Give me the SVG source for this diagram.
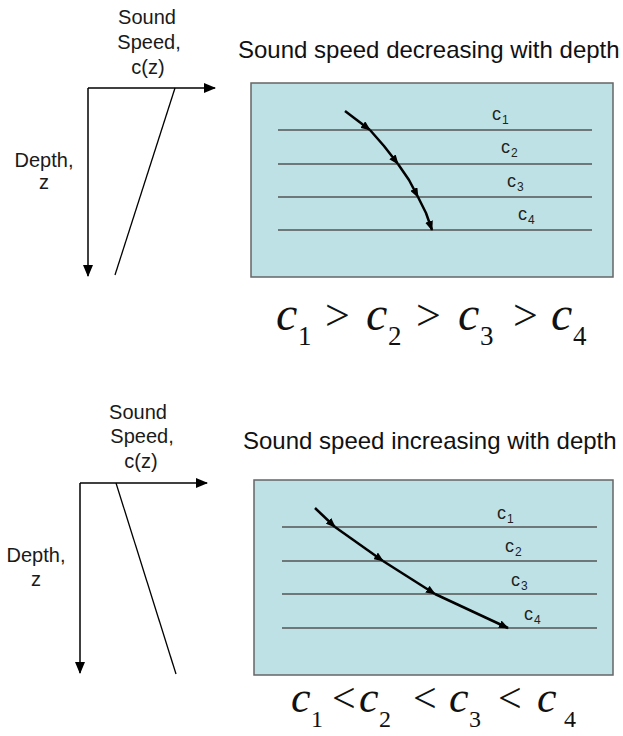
<svg xmlns="http://www.w3.org/2000/svg" width="623" height="736" viewBox="0 0 623 736">
<style>
.lbl{font-family:"Liberation Sans",Arial,sans-serif;font-size:20px;fill:#1a1a1a;text-anchor:middle}
.title{font-family:"Liberation Sans",Arial,sans-serif;font-size:24px;fill:#111}
.cl{font-family:"Liberation Sans",Arial,sans-serif;font-size:18px;fill:#222}
.cs{font-family:"Liberation Sans",Arial,sans-serif;font-size:12px;fill:#222}
.eq{font-family:"Liberation Serif","Times New Roman",serif;font-style:italic;fill:#111}
.eqo{font-family:"Liberation Serif","Times New Roman",serif;fill:#111}
.eqs{font-family:"Liberation Serif","Times New Roman",serif;fill:#111}
.axis{stroke:#000;stroke-width:1.5;fill:none}
.prof{stroke:#000;stroke-width:1.3;fill:none}
.box{fill:#BDE1E4;stroke:#666;stroke-width:1.5}
.layer{stroke:#555;stroke-width:1.5}
.ray{stroke:#000;stroke-width:2.5;fill:none;stroke-linejoin:round}
</style>
<defs>
<marker id="ax" markerUnits="userSpaceOnUse" markerWidth="12" markerHeight="10" refX="11" refY="5" orient="auto">
<path d="M0,0 L12,5 L0,10 z" fill="#000"/>
</marker>
<marker id="rh" markerUnits="userSpaceOnUse" markerWidth="10" markerHeight="8" refX="9" refY="4" orient="auto">
<path d="M0,0 L10,4 L0,8 z" fill="#000"/>
</marker>
</defs>

<g id="top-profile">
<text class="lbl" x="147" y="24">Sound</text>
<text class="lbl" x="149" y="49">Speed,</text>
<text class="lbl" x="148" y="74">c(z)</text>
<text class="lbl" x="44" y="167">Depth,</text>
<text class="lbl" x="44" y="189">z</text>
<line class="axis" x1="88" y1="88" x2="215" y2="88" marker-end="url(#ax)"/>
<line class="axis" x1="88" y1="88" x2="88" y2="276" marker-end="url(#ax)"/>
<line class="prof" x1="175" y1="88" x2="115" y2="275"/>
</g>

<g id="top-title">
<text class="title" x="238" y="58">Sound speed decreasing with depth</text>
</g>

<g id="top-box">
<rect class="box" x="251" y="83" width="362" height="194"/>
<line class="layer" x1="278" y1="130" x2="592" y2="130"/>
<line class="layer" x1="278" y1="164" x2="592" y2="164"/>
<line class="layer" x1="278" y1="197" x2="592" y2="197"/>
<line class="layer" x1="278" y1="230" x2="592" y2="230"/>
<text class="cl" x="492" y="120">c</text><text class="cs" x="502" y="124">1</text>
<text class="cl" x="501" y="153">c</text><text class="cs" x="511" y="157">2</text>
<text class="cl" x="507" y="187">c</text><text class="cs" x="517" y="191">3</text>
<text class="cl" x="518" y="220">c</text><text class="cs" x="528" y="224">4</text>
<polyline class="ray" points="345,111 370,130" marker-end="url(#rh)"/>
<polyline class="ray" points="370,130 384,146 398,164" marker-end="url(#rh)"/>
<polyline class="ray" points="398,164 409,180 418,197" marker-end="url(#rh)"/>
<polyline class="ray" points="418,197 426,213 432,230" marker-end="url(#rh)"/>
</g>

<g id="top-equation">
<text class="eq" font-size="48" x="276" y="330">c</text>
<text class="eqs" font-size="27" x="298" y="345">1</text>
<text class="eqo" font-size="44" x="325" y="330">&gt;</text>
<text class="eq" font-size="48" x="366" y="330">c</text>
<text class="eqs" font-size="27" x="388" y="345">2</text>
<text class="eqo" font-size="44" x="416" y="330">&gt;</text>
<text class="eq" font-size="48" x="458" y="330">c</text>
<text class="eqs" font-size="27" x="480" y="345">3</text>
<text class="eqo" font-size="44" x="513" y="330">&gt;</text>
<text class="eq" font-size="48" x="551" y="330">c</text>
<text class="eqs" font-size="27" x="573" y="345">4</text>
</g>

<g id="bottom-profile">
<text class="lbl" x="138" y="419">Sound</text>
<text class="lbl" x="142" y="443">Speed,</text>
<text class="lbl" x="141" y="468">c(z)</text>
<text class="lbl" x="36" y="562">Depth,</text>
<text class="lbl" x="36" y="586">z</text>
<line class="axis" x1="80" y1="483" x2="207" y2="483" marker-end="url(#ax)"/>
<line class="axis" x1="80" y1="483" x2="80" y2="673" marker-end="url(#ax)"/>
<line class="prof" x1="116" y1="483" x2="176" y2="674"/>
</g>

<g id="bottom-title">
<text class="title" x="243" y="449">Sound speed increasing with depth</text>
</g>

<g id="bottom-box">
<rect class="box" x="254" y="480" width="359" height="195"/>
<line class="layer" x1="282" y1="527" x2="597" y2="527"/>
<line class="layer" x1="282" y1="561" x2="597" y2="561"/>
<line class="layer" x1="282" y1="594" x2="597" y2="594"/>
<line class="layer" x1="282" y1="628" x2="597" y2="628"/>
<text class="cl" x="497" y="519">c</text><text class="cs" x="507" y="523">1</text>
<text class="cl" x="505" y="552">c</text><text class="cs" x="515" y="556">2</text>
<text class="cl" x="511" y="586">c</text><text class="cs" x="521" y="590">3</text>
<text class="cl" x="524" y="620">c</text><text class="cs" x="534" y="624">4</text>
<polyline class="ray" points="315,508 335,527" marker-end="url(#rh)"/>
<polyline class="ray" points="335,527 383,561" marker-end="url(#rh)"/>
<polyline class="ray" points="383,561 435,594" marker-end="url(#rh)"/>
<polyline class="ray" points="435,594 508,628" marker-end="url(#rh)"/>
</g>

<g id="bottom-equation">
<text class="eq" font-size="44" x="291" y="712">c</text>
<text class="eqs" font-size="24" x="311" y="727">1</text>
<text class="eqo" font-size="42" x="332" y="712">&lt;</text>
<text class="eq" font-size="44" x="359" y="712">c</text>
<text class="eqs" font-size="24" x="379" y="727">2</text>
<text class="eqo" font-size="42" x="413" y="712">&lt;</text>
<text class="eq" font-size="44" x="449" y="712">c</text>
<text class="eqs" font-size="24" x="469" y="727">3</text>
<text class="eqo" font-size="42" x="498" y="712">&lt;</text>
<text class="eq" font-size="44" x="537" y="712">c</text>
<text class="eqs" font-size="24" x="564" y="727">4</text>
</g>
</svg>
